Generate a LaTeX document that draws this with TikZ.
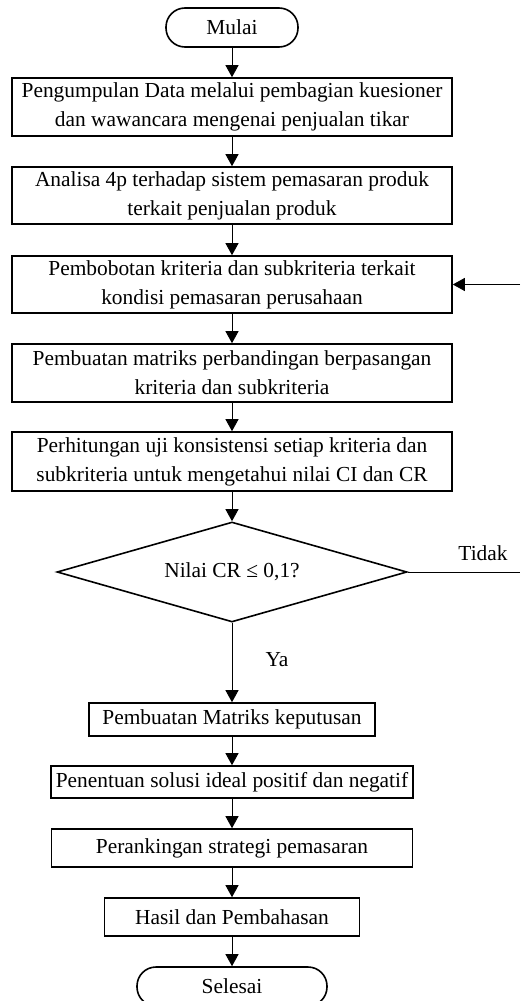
\documentclass[tikz,border=0pt]{standalone}
\usepackage{fontspec}
\setmainfont{Liberation Serif}
\usepackage{tikz}
\usetikzlibrary{arrows.meta,shapes.geometric}

\begin{document}
\begin{tikzpicture}[x=1pt,y=-1pt]
\tikzset{box/.style = {shape=rectangle,draw,line width=1.6pt,minimum width=440pt,align=center,inner sep=0pt,font=\fontsize{21.4pt}{29pt}\selectfont}}
\tikzset{terminal/.style = {box,rounded corners=19pt,minimum width=132pt,minimum height=39pt}}
\tikzset{decision/.style = {shape=diamond,draw,line width=1.6pt,aspect=3.5,inner sep=0pt,minimum width=350pt,minimum height=100pt,font=\fontsize{21.4pt}{29pt}\selectfont}}
\tikzset{edge/.style = {->,line width=0.9pt,> = {Triangle[length=12pt,width=13pt]}}}
\tikzset{label/.style = {font=\fontsize{21.4pt}{29pt}\selectfont}}
\useasboundingbox (0,0) rectangle (520,1001);

\node[terminal] (mulai) at (232,27.5) {Mulai};
\node[box,minimum height=58pt] (kumpul) at (232,107) {Pengumpulan Data melalui pembagian kuesioner\\dan wawancara mengenai penjualan tikar};
\node[box,minimum height=57pt] (analisa) at (232,195.5) {Analisa 4p terhadap sistem pemasaran produk\\terkait penjualan produk};
\node[box,minimum height=57pt] (bobot) at (232,284.5) {Pembobotan kriteria dan subkriteria terkait\\kondisi pemasaran perusahaan};
\node[box,minimum height=58pt] (matriks) at (232,373) {Pembuatan matriks perbandingan berpasangan\\kriteria dan subkriteria};
\node[box,minimum height=59pt] (uji) at (232,461.5) {Perhitungan uji konsistensi setiap kriteria dan\\subkriteria untuk mengetahui nilai CI dan CR};
\node[decision] (cek) at (232,572) {Nilai CR ≤ 0,1?};
\node[box,minimum width=286pt,minimum height=33pt] (keputusan) at (232,719.5) {Pembuatan Matriks keputusan};
\node[box,minimum width=362pt,minimum height=32pt] (ideal) at (232,782) {Penentuan solusi ideal positif dan negatif};
\node[box,minimum width=361pt,minimum height=38pt] (ranking) at (232,848) {Perankingan strategi pemasaran};
\node[box,minimum width=255pt,minimum height=38pt] (hasil) at (232,917) {Hasil dan Pembahasan};
\node[terminal,minimum width=190pt] (selesai) at (232,986.5) {Selesai};

\coordinate (tidak) at (520,572);
\coordinate (balik) at (520,284.5);
\node[label] (ya) at (277,660) {Ya};
\node[label] (tdk) at (483,553) {Tidak};

\draw[edge] (mulai) to (kumpul);
\draw[edge] (kumpul) to (analisa);
\draw[edge] (analisa) to (bobot);
\draw[edge] (bobot) to (matriks);
\draw[edge] (matriks) to (uji);
\draw[edge] (uji) to (cek);
\draw[edge] (cek) to (keputusan);
\draw[edge] (keputusan) to (ideal);
\draw[edge] (ideal) to (ranking);
\draw[edge] (ranking) to (hasil);
\draw[edge] (hasil) to (selesai);
\draw[edge,-] (cek.east) to (tidak);
\draw[edge] (balik) to (bobot.east);
\end{tikzpicture}
\end{document}
